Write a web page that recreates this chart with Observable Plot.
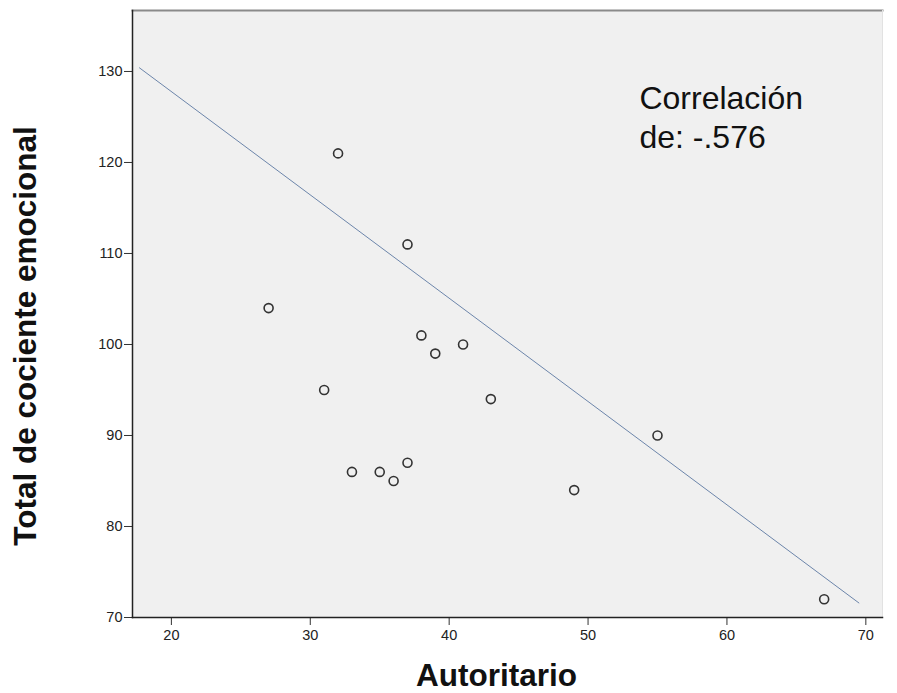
<!DOCTYPE html>
<html>
<head>
<meta charset="utf-8">
<script src="https://cdn.jsdelivr.net/npm/d3@7"></script>
<script src="https://cdn.jsdelivr.net/npm/@observablehq/plot@0.6"></script>
<style>
  html, body { margin: 0; padding: 0; background: #fff; }
  #chart svg { display: block; }
</style>
</head>
<body>
<div id="chart"></div>
<script>
// Data
const autoritario = [27, 31, 32, 33, 35, 36, 37, 37, 38, 39, 41, 43, 49, 55, 67];
const cocienteEmocional = [104, 95, 121, 86, 86, 85, 111, 87, 101, 99, 100, 94, 84, 90, 72];
const fitLineX = [17.7, 69.5];
const fitLineY = [130.4, 71.6];
const xTicks = [20, 30, 40, 50, 60, 70];
const yTicks = [70, 80, 90, 100, 110, 120, 130];
const xLabel = "Autoritario";
const yLabel = "Total de cociente emocional";
const annotation = "Correlación\nde: -.576";

const points = autoritario.map((x, i) => ({x, y: cocienteEmocional[i]}));
const fit = fitLineX.map((x, i) => ({x, y: fitLineY[i]}));

const font = "'Liberation Sans', Arial, sans-serif";

const chart = Plot.plot({
  width: 897,
  height: 693,
  marginLeft: 132,
  marginRight: 15,
  marginTop: 10,
  marginBottom: 76,
  style: {fontFamily: font, background: "#fff", color: "#222"},
  x: {domain: [17.2, 71.2]},
  y: {domain: [70, 136.7]},
  marks: [
    Plot.frame({fill: "#f0f0f0", stroke: null}),
    Plot.frame({anchor: "top", stroke: "#8a8a8a", strokeWidth: 2}),
    Plot.frame({anchor: "right", stroke: "#e2e2e2", strokeWidth: 1}),
    Plot.line(fit, {x: "x", y: "y", stroke: "#6c85aa", strokeWidth: 1}),
    Plot.dot(points, {x: "x", y: "y", r: 4.5, stroke: "#333", strokeWidth: 1.6, fill: "none"}),
    Plot.text([annotation], {
      x: 53.7, y: 128.9, text: d => d, textAnchor: "start", lineAnchor: "top",
      fontSize: 32, lineHeight: 1.22, fill: "#111", fontFamily: font
    }),
    Plot.axisX({ticks: xTicks, tickSize: 8, tickPadding: 4, fontSize: 14.5, label: null, stroke: "#333", fill: "#222"}),
    Plot.axisY({ticks: yTicks, tickSize: 8, tickPadding: 2, fontSize: 14.5, label: null, stroke: "#333", fill: "#222"}),
    Plot.frame({anchor: "left", stroke: "#222", strokeWidth: 1.5}),
    Plot.frame({anchor: "bottom", stroke: "#222", strokeWidth: 1.5}),
    Plot.text([xLabel], {
      frameAnchor: "bottom", text: d => d, dx: -11, dy: 68, lineAnchor: "bottom",
      fontSize: 31.5, fontWeight: "bold", fill: "#111", fontFamily: font
    }),
    Plot.text([yLabel], {
      frameAnchor: "left", text: d => d, dx: -107, dy: 22, rotate: -90,
      textAnchor: "middle", lineAnchor: "middle",
      fontSize: 31.5, fontWeight: "bold", fill: "#111", fontFamily: font
    })
  ]
});

document.getElementById("chart").appendChild(chart);
</script>
</body>
</html>
